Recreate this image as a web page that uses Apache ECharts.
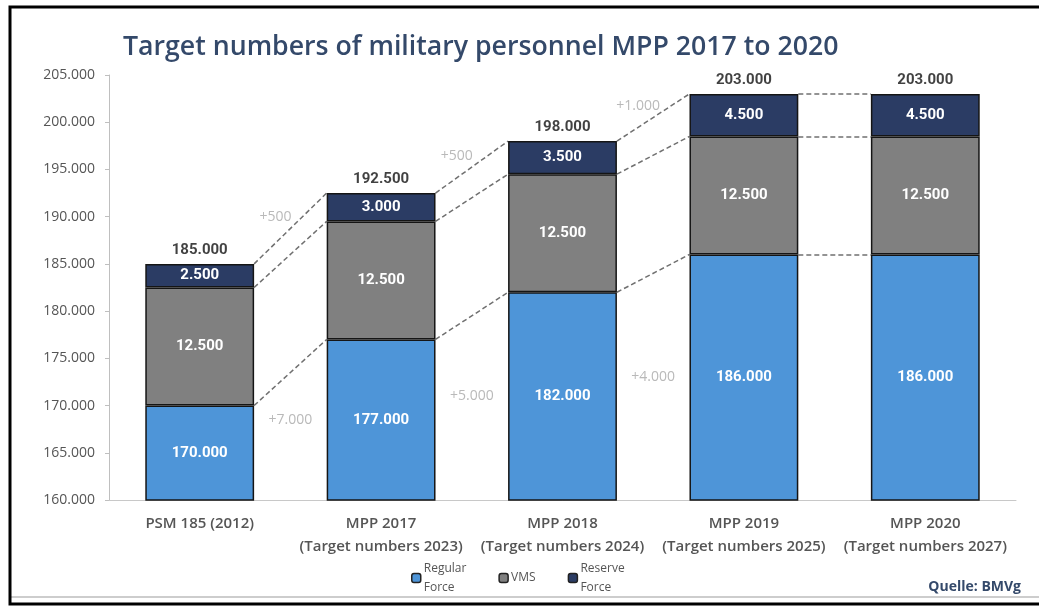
<!DOCTYPE html>
<html>
<head>
<meta charset="utf-8">
<script src="https://cdn.jsdelivr.net/npm/echarts@6/dist/echarts.min.js"></script>
<style>html,body{margin:0;padding:0;background:#fff;}#c{width:1039px;height:607px;}</style>
</head>
<body>
<div id="c"></div>
<script>
const categories = ['PSM 185 (2012)', 'MPP 2017\n(Target numbers 2023)', 'MPP 2018\n(Target numbers 2024)', 'MPP 2019\n(Target numbers 2025)', 'MPP 2020\n(Target numbers 2027)'];
const regularForce = [170000, 177000, 182000, 186000, 186000];
const vms = [12500, 12500, 12500, 12500, 12500];
const reserveForce = [2500, 3000, 3500, 4500, 4500];
const yTicks = {min: 160000, max: 205000, interval: 5000};

function fmt(v) {
  const s = String(Math.round(v));
  return s.replace(/\B(?=(\d{3})+(?!\d))/g, '.');
}
const totals = regularForce.map((r, i) => r + vms[i] + reserveForce[i]);
const vmsTops = regularForce.map((r, i) => r + vms[i]);

const half = 0.3;
function connectors(tops) {
  const out = [];
  for (let i = 0; i < tops.length - 1; i++) {
    out.push({coords: [[i + half, tops[i]], [i + 1 - half, tops[i + 1]]]});
  }
  return out;
}
const allConnectors = [].concat(connectors(regularForce), connectors(vmsTops), connectors(totals));

// difference annotations (only where the value changes)
const regDiff = [], resDiff = [];
for (let i = 0; i < regularForce.length - 1; i++) {
  const d1 = regularForce[i + 1] - regularForce[i];
  if (d1 !== 0) regDiff.push({value: [i + 0.5, (yTicks.min + regularForce[i + 1]) / 2], txt: '+' + fmt(d1)});
  const d2 = reserveForce[i + 1] - reserveForce[i];
  if (d2 !== 0) resDiff.push({value: [i + 0.5, (totals[i] + totals[i + 1]) / 2], txt: '+' + fmt(d2)});
}

const barBorder = {borderColor: '#151515', borderWidth: 1.5};
const inLabel = {show: true, position: 'inside', color: '#fff', fontFamily: 'Roboto', fontWeight: 'bold', fontSize: 15, formatter: p => fmt(p.value)};

const chart = echarts.init(document.getElementById('c'));
chart.setOption({
  animation: false,
  backgroundColor: '#fff',
  title: {
    text: 'Target numbers of military personnel MPP 2017 to 2020',
    left: 118, top: 29,
    textStyle: {fontFamily: 'Open Sans', fontWeight: 600, fontSize: 26.7, color: '#34496a'}
  },
  grid: {left: 109, right: 23, top: 75, bottom: 107},
  legend: {
    left: 406, bottom: 5,
    itemWidth: 9, itemHeight: 9, itemGap: 32,
    data: ['Regular\nForce', 'VMS', 'Reserve\nForce'],
    itemStyle: {borderColor: '#222', borderWidth: 1.5},
    textStyle: {fontFamily: 'Open Sans', fontSize: 12, color: '#555', lineHeight: 19, padding: [0, 0, 0, -2]}
  },
  xAxis: [{
    type: 'category', data: categories,
    axisLine: {show: true, lineStyle: {color: '#c8c8c8'}},
    axisTick: {show: false},
    axisLabel: {fontFamily: 'Open Sans', fontWeight: 600, fontSize: 15, color: '#555', lineHeight: 23, margin: 12, interval: 0}
  }, {
    type: 'value', min: -0.5, max: categories.length - 0.5, show: false
  }],
  yAxis: {
    type: 'value', min: yTicks.min, max: yTicks.max, interval: yTicks.interval,
    axisLine: {show: true, onZero: false, lineStyle: {color: '#bfbfbf'}},
    axisTick: {show: true, length: 4, lineStyle: {color: '#bfbfbf'}},
    splitLine: {show: false},
    axisLabel: {fontFamily: 'Open Sans', fontSize: 14, color: '#555', margin: 14, formatter: v => fmt(v)}
  },
  series: [
    {name: 'Regular\nForce', type: 'bar', stack: 's', barWidth: '60%', data: regularForce,
      itemStyle: Object.assign({color: '#4e95d8'}, barBorder), label: inLabel},
    {name: 'VMS', type: 'bar', stack: 's', data: vms,
      itemStyle: Object.assign({color: '#808080'}, barBorder), label: inLabel},
    {name: 'Reserve\nForce', type: 'bar', stack: 's', data: reserveForce,
      itemStyle: Object.assign({color: '#2b3c64'}, barBorder), label: inLabel},
    {type: 'scatter', data: totals, symbolSize: 0, silent: true,
      label: {show: true, position: 'top', distance: 6, color: '#111', fontFamily: 'Roboto', fontWeight: 'bold', fontSize: 15, formatter: p => fmt(p.value)}},
    {type: 'lines', coordinateSystem: 'cartesian2d', xAxisIndex: 1, yAxisIndex: 0, data: allConnectors, silent: true,
      lineStyle: {color: '#707070', width: 1.5, type: [5, 3], opacity: 1}},
    {type: 'scatter', xAxisIndex: 1, data: regDiff, symbolSize: 0, silent: true,
      label: {show: true, position: 'inside', color: '#a8a8a8', fontFamily: 'Open Sans', fontSize: 14, formatter: p => p.data.txt}},
    {type: 'scatter', xAxisIndex: 1, data: resDiff, symbolSize: 0, silent: true,
      label: {show: true, position: 'inside', offset: [-15, -11], color: '#a8a8a8', fontFamily: 'Open Sans', fontSize: 14, formatter: p => p.data.txt}}
  ],
  graphic: [
    {type: 'line', shape: {x1: 11, y1: 597, x2: 1039, y2: 597}, style: {stroke: '#bdbdbd', lineWidth: 1.5}},
    {type: 'rect', shape: {x: 10, y: 7, width: 1040, height: 597}, style: {fill: null, stroke: '#000', lineWidth: 3}},
    {type: 'text', right: 18, top: 580, style: {text: 'Quelle: BMVg', fontFamily: 'Open Sans', fontWeight: 'bold', fontSize: 14, fill: '#34496a'}}
  ]
});
</script>
</body>
</html>
